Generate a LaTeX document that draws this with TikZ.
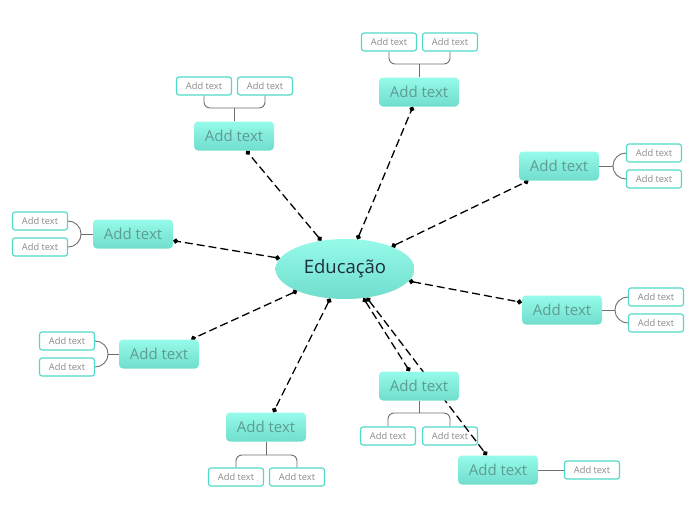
\documentclass[tikz,border=0pt]{standalone}
\usepackage{fontspec}
\setmainfont{Open Sans}
\usetikzlibrary{arrows.meta,shapes.geometric}
\definecolor{topA}{HTML}{96FAE9}
\definecolor{botA}{HTML}{70DDCC}
\definecolor{mtext}{HTML}{5E9C93}
\definecolor{cborder}{HTML}{4FD9C7}
\definecolor{ctext}{HTML}{8A8A8A}
\definecolor{brc}{HTML}{6E6E6E}
\definecolor{ctrtext}{HTML}{1E2D3D}
\begin{document}
\begin{tikzpicture}[x=1pt,y=-1pt,
  topic/.style={rectangle,rounded corners=4pt,top color=topA,bottom color=botA,draw=none,
    minimum width=80pt,minimum height=29pt,inner sep=0pt,text=mtext,font=\fontsize{15}{17}\selectfont},
  sub/.style={rectangle,rounded corners=2.5pt,fill=white,draw=cborder,line width=1.1pt,
    minimum width=55pt,minimum height=18pt,inner sep=0pt,text=ctext,font=\fontsize{9.3}{11}\selectfont},
  central/.style={ellipse,top color=topA,bottom color=botA,draw=none,minimum width=139pt,
    minimum height=60pt,inner sep=0pt,text=ctrtext,font=\fontsize{18.5}{21}\selectfont},
  conn/.style={line width=1.3pt,dash pattern=on 8pt off 4pt,{Circle[length=5pt]}-{Circle[length=5pt]}},
  br/.style={draw=brc,line width=0.9pt},
  brr/.style={br,rounded corners=6pt}]
\path[use as bounding box] (0,0) rectangle (697,520);

% sub topics
\node[sub] (a1) at (204,86) {Add text};
\node[sub] (b1) at (265,86) {Add text};
\node[sub] (a2) at (389,42) {Add text};
\node[sub] (b2) at (450,42) {Add text};
\node[sub] (a3) at (654,153) {Add text};
\node[sub] (b3) at (654,179) {Add text};
\node[sub] (a4) at (40,221) {Add text};
\node[sub] (b4) at (40,247) {Add text};
\node[sub] (a5) at (656,297) {Add text};
\node[sub] (b5) at (656,323) {Add text};
\node[sub] (a6) at (67,341) {Add text};
\node[sub] (b6) at (67,367) {Add text};
\node[sub] (a7) at (236,477) {Add text};
\node[sub] (b7) at (297,477) {Add text};
\node[sub] (a8) at (388,436) {Add text};
\node[sub] (b8) at (450,436) {Add text};
\node[sub] (a9) at (592,470) {Add text};

% central
\node[central] (c) at (345,269) {Educação};

% topic positions
\path (234,136) coordinate (p1) (419,92) coordinate (p2) (559,166) coordinate (p3)
  (133,234) coordinate (p4) (562,310) coordinate (p5) (159,354) coordinate (p6)
  (266,427) coordinate (p7) (419,386) coordinate (p8) (498,470) coordinate (p9);
\path (p1) node[topic,opacity=0] (m1) {Add text} (p2) node[topic,opacity=0] (m2) {Add text}
  (p3) node[topic,opacity=0] (m3) {Add text} (p4) node[topic,opacity=0] (m4) {Add text}
  (p5) node[topic,opacity=0] (m5) {Add text} (p6) node[topic,opacity=0] (m6) {Add text}
  (p7) node[topic,opacity=0] (m7) {Add text} (p8) node[topic,opacity=0] (m8) {Add text}
  (p9) node[topic,opacity=0] (m9) {Add text};

% connectors
\foreach \i in {1,...,9} \draw[conn] (c) -- (m\i);

% topics
\foreach \i in {1,...,9} \node[topic] (t\i) at (p\i) {Add text};

% brackets (vertical type)
\coordinate (j1) at (234,108);
\draw[br] (t1.north) -- (j1);
\draw[brr] (a1.south) -- (a1.south |- j1) -- (b1.south |- j1) -- (b1.south);
\coordinate (j2) at (419,64);
\draw[br] (t2.north) -- (j2);
\draw[brr] (a2.south) -- (a2.south |- j2) -- (b2.south |- j2) -- (b2.south);
\coordinate (j7) at (266,455);
\draw[br] (t7.south) -- (j7);
\draw[brr] (a7.north) -- (a7.north |- j7) -- (b7.north |- j7) -- (b7.north);
\coordinate (j8) at (419,413);
\draw[br] (t8.south) -- (j8);
\draw[brr] (a8.north) -- (a8.north |- j8) -- (b8.north |- j8) -- (b8.north);

% brackets (side type)
\coordinate (j3) at (613,166);
\draw[br] (t3.east) -- (j3);
\draw[br] (a3.west) arc[start angle=270,end angle=90,radius=13];
\coordinate (j5) at (615,310);
\draw[br] (t5.east) -- (j5);
\draw[br] (a5.west) arc[start angle=270,end angle=90,radius=13];
\coordinate (j4) at (81,234);
\draw[br] (t4.west) -- (j4);
\draw[br] (a4.east) arc[start angle=-90,end angle=90,radius=13];
\coordinate (j6) at (108,354);
\draw[br] (t6.west) -- (j6);
\draw[br] (a6.east) arc[start angle=-90,end angle=90,radius=13];
\draw[br] (t9.east) -- (a9.west);
\end{tikzpicture}
\end{document}
